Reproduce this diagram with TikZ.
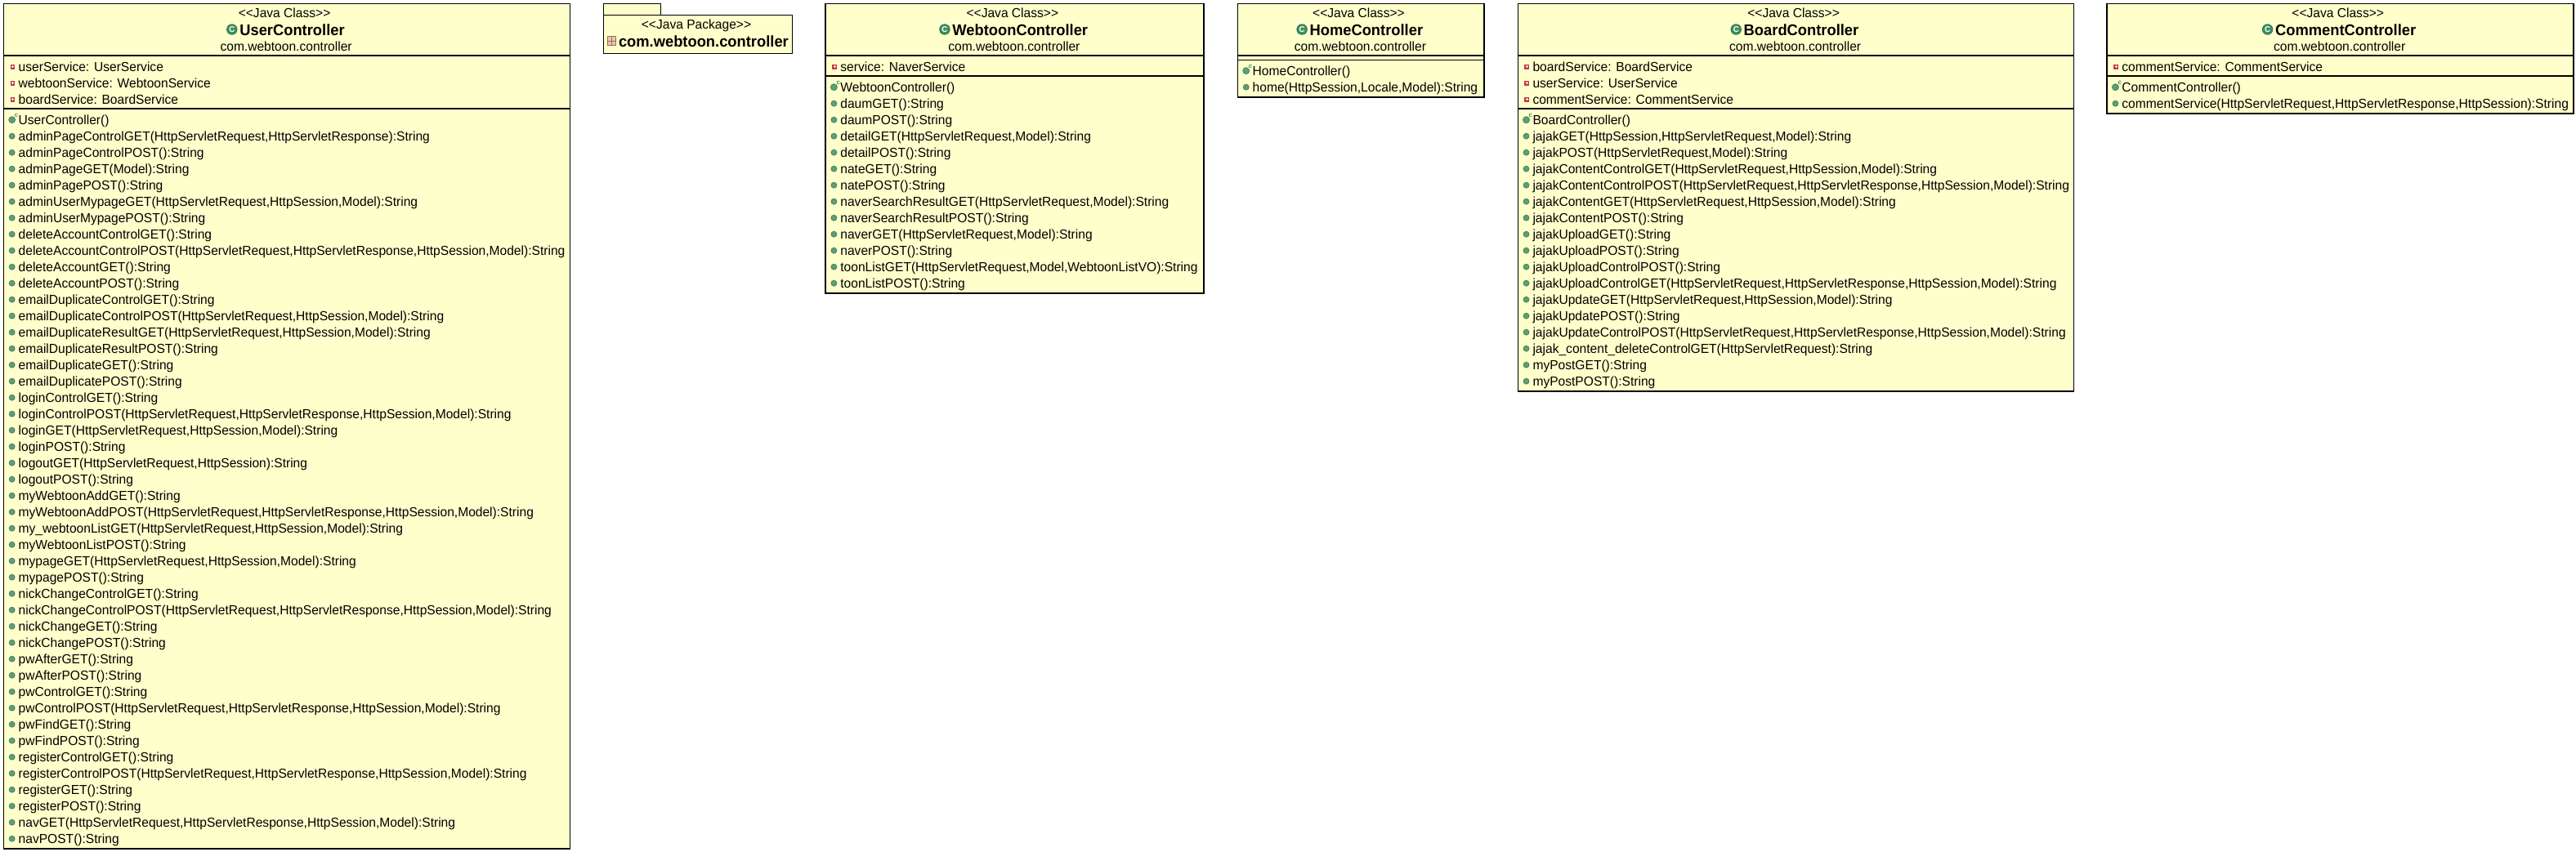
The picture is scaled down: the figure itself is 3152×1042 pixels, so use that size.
\documentclass[tikz,border=0pt]{standalone}
\usepackage{fontspec}
\newfontfamily\umlfont[FakeStretch=0.974]{Liberation Sans}
\newfontfamily\umlbold[FakeStretch=0.965]{Liberation Sans Bold}
\definecolor{umlfill}{HTML}{FFFFCC}
\definecolor{pubgreen}{HTML}{5E9E78}
\definecolor{pubedge}{HTML}{3F7F5A}
\definecolor{privred}{HTML}{C8394F}
\definecolor{classgreen}{HTML}{3D9163}
\definecolor{pkgbrown}{HTML}{A8683C}
\tikzset{
 x=1pt,y=-1pt,
 umlbox/.style={draw=black,line width=1.5pt,fill=umlfill,rectangle,inner sep=0pt,anchor=north west},
 sepline/.style={draw=black,line width=1.5pt},
 rowtext/.style={anchor=base west,inner sep=0pt,outer sep=0pt,text=black,font=\umlfont\fontsize{16}{18}\selectfont},
 stereotext/.style={anchor=base,inner sep=0pt,text=black,font=\umlfont\fontsize{16}{18}\selectfont},
 pkgtext/.style={anchor=base,inner sep=0pt,text=black,font=\umlfont\fontsize{16}{18}\selectfont},
 nametext/.style={anchor=base,inner sep=0pt,text=black,font=\umlbold\fontsize{19}{22}\selectfont},
 pubicon/.style={circle,draw=pubedge,line width=.7pt,fill=pubgreen,minimum size=7pt,inner sep=0pt},
 ctoricon/.style={pubicon,minimum size=8pt},
 privicon/.style={rectangle,fill=privred,minimum size=5.8pt,inner sep=0pt},
 privplus/.style={draw=white,line width=.8pt},
 classicon/.style={circle,draw=classgreen!75!black,line width=.8pt,fill=classgreen,minimum size=12.5pt,inner sep=0pt,text=white,font=\umlbold\fontsize{10}{10}\selectfont},
 ctorlabel/.style={inner sep=0pt,text=classgreen,font=\umlbold\fontsize{8}{8}\selectfont},
}
\newcommand{\umlclass}[5]{%
 \node[umlbox,minimum width={#3-#2},minimum height={#4-3.5}] (#1) at (#2,3.5) {};
 \node[stereotext] (#1st) at ({(#2+#3)/2-2},21) {<{}<Java Class>{}>};
 \node[nametext] (#1nm) at ({(#2+#3)/2+7.4},43.5) {#5};
 \node[classicon] (#1ic) at ([xshift=-9.3pt,yshift=7.5pt]#1nm.base west) {C};
 \node[stereotext] (#1pk) at ({(#2+#3)/2},62.5) {com.webtoon.controller};
}
\newcommand{\umlsep}[2]{\draw[sepline] ([yshift=-(#2-3.5)*1pt]#1.north west) -- ([yshift=-(#2-3.5)*1pt]#1.north east);}
\newcommand{\umlattrs}[4]{%
 \foreach \rowtxt [count=\ii from 0] in {#4} {
  \pgfmathsetmacro\yy{#3+20*\ii}
  \node[privicon] (#1a\ii i) at (#2+11.7,\yy) {};
  \draw[privplus] ([xshift=-1.5pt]#1a\ii i.center) -- ([xshift=1.5pt]#1a\ii i.center)
                  ([yshift=-1.5pt]#1a\ii i.center) -- ([yshift=1.5pt]#1a\ii i.center);
  \node[rowtext] (#1a\ii) at (#2+19,\yy+5.6) {\rowtxt};
 }}
\newcommand{\umlopers}[4]{%
 \foreach \rowtxt [count=\ii from 0] in {#4} {
  \pgfmathsetmacro\yy{#3+20*\ii}
  \ifnum\ii=0
   \node[ctoricon] (#1m\ii i) at (#2+11,\yy) {};
   \node[ctorlabel] (#1c) at (#2+16.3,\yy-5.5) {c};
  \else
   \node[pubicon] (#1m\ii i) at (#2+11,\yy) {};
  \fi
  \node[rowtext] (#1m\ii) at (#2+19,\yy+5.6) {\rowtxt};
 }}
\begin{document}
\begin{tikzpicture}
\useasboundingbox (0,0) rectangle (3152,1042);
% UserController
\umlclass{user}{3.7}{696.5}{1038}{UserController}
\umlsep{user}{68}\umlsep{user}{133}
\umlattrs{user}{3.7}{81.7}{{userService: UserService},{webtoonService: WebtoonService},{boardService: BoardService}}
\umlopers{user}{3.7}{146.7}{{UserController()},
{adminPageControlGET(HttpServletRequest,HttpServletResponse):String},
{adminPageControlPOST():String},
{adminPageGET(Model):String},
{adminPagePOST():String},
{adminUserMypageGET(HttpServletRequest,HttpSession,Model):String},
{adminUserMypagePOST():String},
{deleteAccountControlGET():String},
{deleteAccountControlPOST(HttpServletRequest,HttpServletResponse,HttpSession,Model):String},
{deleteAccountGET():String},
{deleteAccountPOST():String},
{emailDuplicateControlGET():String},
{emailDuplicateControlPOST(HttpServletRequest,HttpSession,Model):String},
{emailDuplicateResultGET(HttpServletRequest,HttpSession,Model):String},
{emailDuplicateResultPOST():String},
{emailDuplicateGET():String},
{emailDuplicatePOST():String},
{loginControlGET():String},
{loginControlPOST(HttpServletRequest,HttpServletResponse,HttpSession,Model):String},
{loginGET(HttpServletRequest,HttpSession,Model):String},
{loginPOST():String},
{logoutGET(HttpServletRequest,HttpSession):String},
{logoutPOST():String},
{myWebtoonAddGET():String},
{myWebtoonAddPOST(HttpServletRequest,HttpServletResponse,HttpSession,Model):String},
{my\_webtoonListGET(HttpServletRequest,HttpSession,Model):String},
{myWebtoonListPOST():String},
{mypageGET(HttpServletRequest,HttpSession,Model):String},
{mypagePOST():String},
{nickChangeControlGET():String},
{nickChangeControlPOST(HttpServletRequest,HttpServletResponse,HttpSession,Model):String},
{nickChangeGET():String},
{nickChangePOST():String},
{pwAfterGET():String},
{pwAfterPOST():String},
{pwControlGET():String},
{pwControlPOST(HttpServletRequest,HttpServletResponse,HttpSession,Model):String},
{pwFindGET():String},
{pwFindPOST():String},
{registerControlGET():String},
{registerControlPOST(HttpServletRequest,HttpServletResponse,HttpSession,Model):String},
{registerGET():String},
{registerPOST():String},
{navGET(HttpServletRequest,HttpServletResponse,HttpSession,Model):String},
{navPOST():String}}
% Package
\node[umlbox,minimum width=70.2pt,minimum height=14pt] (pkgtab) at (737.5,3.5) {};
\node[umlbox,minimum width=231.2pt,minimum height=47pt] (pkg) at (737.5,17.5) {};
\node[pkgtext] (pkgst) at (852,35) {<{}<Java Package>{}>};
\node[nametext,anchor=base west] (pkgnm) at (756.8,57.5) {com.webtoon.controller};
\node[rectangle,draw=pkgbrown,line width=1pt,fill=pkgbrown!35,minimum width=10.5pt,minimum height=11pt,inner sep=0pt] (pkgic) at (748.3,50) {};
\draw[pkgbrown,line width=1pt] (pkgic.north) -- (pkgic.south) (pkgic.west) -- (pkgic.east);
% WebtoonController
\umlclass{toon}{1009.4}{1472.3}{358}{WebtoonController}
\umlsep{toon}{68}\umlsep{toon}{93}
\umlattrs{toon}{1009.4}{81.7}{{service: NaverService}}
\umlopers{toon}{1009.4}{106.7}{{WebtoonController()},
{daumGET():String},
{daumPOST():String},
{detailGET(HttpServletRequest,Model):String},
{detailPOST():String},
{nateGET():String},
{natePOST():String},
{naverSearchResultGET(HttpServletRequest,Model):String},
{naverSearchResultPOST():String},
{naverGET(HttpServletRequest,Model):String},
{naverPOST():String},
{toonListGET(HttpServletRequest,Model,WebtoonListVO):String},
{toonListPOST():String}}
% HomeController
\umlclass{home}{1513.7}{1815.2}{118}{HomeController}
\umlsep{home}{68}\umlsep{home}{73.3}
\umlopers{home}{1513.7}{86.7}{{HomeController()},
{home(HttpSession,Locale,Model):String}}
% BoardController
\umlclass{board}{1856.5}{2536.7}{478}{BoardController}
\umlsep{board}{68}\umlsep{board}{133}
\umlattrs{board}{1856.5}{81.7}{{boardService: BoardService},{userService: UserService},{commentService: CommentService}}
\umlopers{board}{1856.5}{146.7}{{BoardController()},
{jajakGET(HttpSession,HttpServletRequest,Model):String},
{jajakPOST(HttpServletRequest,Model):String},
{jajakContentControlGET(HttpServletRequest,HttpSession,Model):String},
{jajakContentControlPOST(HttpServletRequest,HttpServletResponse,HttpSession,Model):String},
{jajakContentGET(HttpServletRequest,HttpSession,Model):String},
{jajakContentPOST():String},
{jajakUploadGET():String},
{jajakUploadPOST():String},
{jajakUploadControlPOST():String},
{jajakUploadControlGET(HttpServletRequest,HttpServletResponse,HttpSession,Model):String},
{jajakUpdateGET(HttpServletRequest,HttpSession,Model):String},
{jajakUpdatePOST():String},
{jajakUpdateControlPOST(HttpServletRequest,HttpServletResponse,HttpSession,Model):String},
{jajak\_content\_deleteControlGET(HttpServletRequest):String},
{myPostGET():String},
{myPostPOST():String}}
% CommentController
\umlclass{comm}{2577.4}{3148}{138}{CommentController}
\umlsep{comm}{68}\umlsep{comm}{93}
\umlattrs{comm}{2577.4}{81.7}{{commentService: CommentService}}
\umlopers{comm}{2577.4}{106.7}{{CommentController()},
{commentService(HttpServletRequest,HttpServletResponse,HttpSession):String}}
\end{tikzpicture}
\end{document}
